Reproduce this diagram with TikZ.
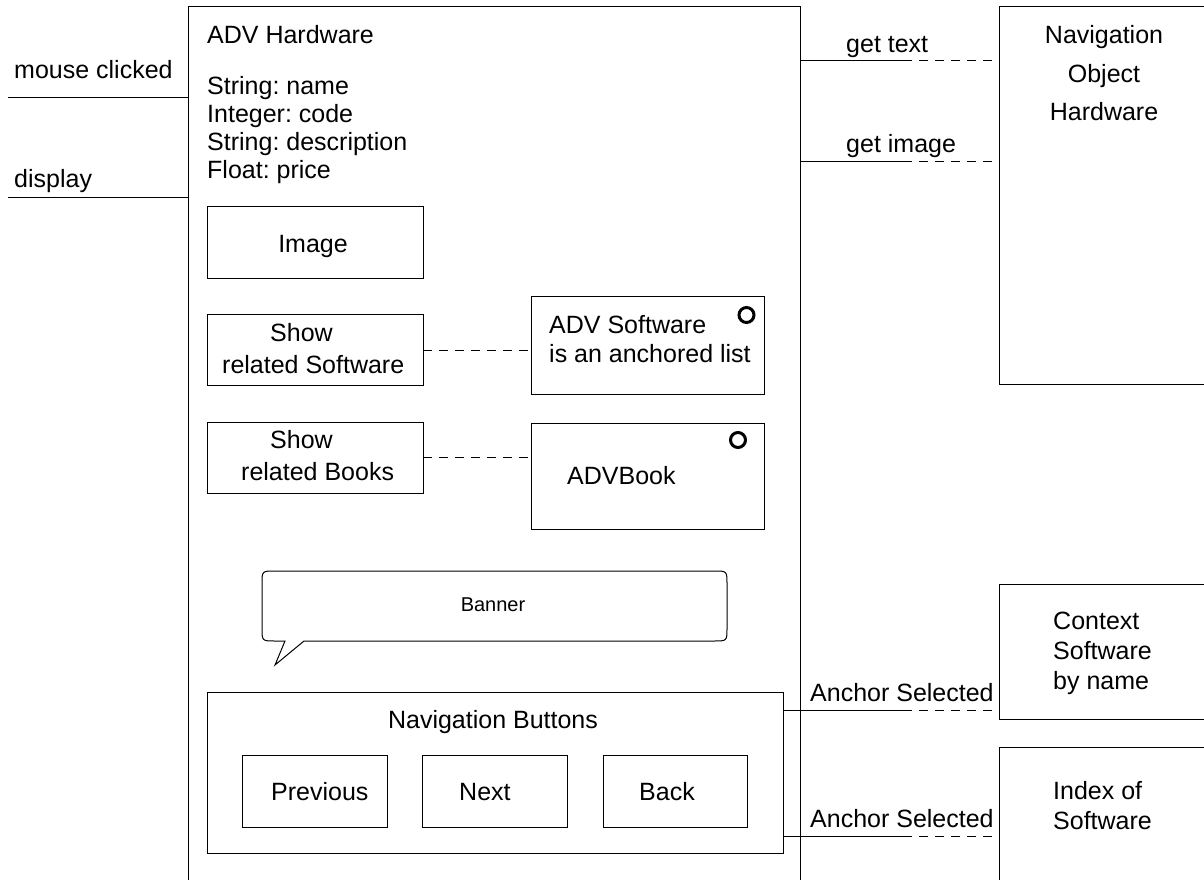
\documentclass[tikz,border=0pt]{standalone}
\usepackage{fontspec}
\setmainfont{Liberation Sans}
\frenchspacing
\begin{document}
\begin{tikzpicture}[x=1pt,y=-1pt,
  ln/.style={line width=1pt},
  dsh/.style={line width=1pt, dash pattern=on 9pt off 7pt},
  box/.style={draw, line width=1pt, inner sep=0pt, anchor=north west},
  frame/.style={draw=none, inner sep=0pt, anchor=north west},
  txt/.style={inner sep=0pt, anchor=base west, font=\fontsize{25}{30}\selectfont},
  ctxt/.style={inner sep=0pt, anchor=base, font=\fontsize{25}{30}\selectfont},
  anchorring/.style={circle, draw, line width=3pt, minimum size=15pt, inner sep=0pt}]
\useasboundingbox (0,0) rectangle (1204,880);

% ADV Hardware page (open at the bottom)
\node[frame, minimum width=612pt, minimum height=873pt] (main) at (188,7) {};
\draw[ln] (main.south west) -- (main.north west) -- (main.north east) -- (main.south east);
\node[txt] (title) at (207,44) {ADV Hardware};
\node[txt] (a1) at (207,95) {String: name};
\node[txt] (a2) at (207,123) {Integer: code};
\node[txt] (a3) at (207,150) {String: description};
\node[txt] (a4) at (207,178) {Float: price};

% incoming events
\coordinate (mc) at (8,98);
\coordinate (dp) at (8,197);
\draw[ln] (mc) -- (main.west |- mc);
\draw[ln] (dp) -- (main.west |- dp);
\node[txt] (lmc) at (14,79) {mouse clicked};
\node[txt] (ldp) at (14,187) {display};

% image
\node[box, minimum width=216pt, minimum height=72pt] (img) at (207,206) {};
\node[ctxt] (limg) at (313,252) {Image};

% related software
\node[box, minimum width=216pt, minimum height=71pt] (srs) at (207,314) {};
\node[txt] (lsrs1) at (270,341) {Show};
\node[txt] (lsrs2) at (222,373) {related Software};
\node[box, minimum width=233pt, minimum height=98pt] (advs) at (531,296) {};
\node[txt] (ladvs1) at (549,333) {ADV Software};
\node[txt] (ladvs2) at (549,362) {is an anchored list};
\node[anchorring] (r1) at (746.5,315) {};
\coordinate (cs) at (423,350);
\draw[dsh] (cs) -- (advs.west |- cs);

% related books
\node[box, minimum width=216pt, minimum height=71pt] (srb) at (207,422) {};
\node[txt] (lsrb1) at (270,448) {Show};
\node[txt] (lsrb2) at (241,480) {related Books};
\node[box, minimum width=233pt, minimum height=106pt] (advb) at (531,423) {};
\node[txt] (ladvb) at (567,484) {ADVBook};
\node[anchorring] (r2) at (738,440) {};
\coordinate (cb) at (423,457);
\draw[dsh] (cb) -- (advb.west |- cb);

% banner callout
\node[inner sep=0pt, font=\fontsize{20}{24}\selectfont] (banner) at (493,605) {Banner};
\draw[ln] (275,665) -- (304,641) -- (714,641) .. controls (727,641) .. (727,628)
  -- (727,584) .. controls (727,571) .. (714,571) -- (275,571)
  .. controls (262,571) .. (262,584) -- (262,628) .. controls (262,641) .. (275,641)
  -- (285,641) -- cycle;

% navigation buttons
\node[box, minimum width=576pt, minimum height=161pt] (navb) at (207,692) {};
\node[ctxt] (lnavb) at (493,728) {Navigation Buttons};
\node[box, minimum width=145pt, minimum height=72pt] (prev) at (242,755) {};
\node[box, minimum width=145pt, minimum height=72pt] (next) at (422,755) {};
\node[box, minimum width=144pt, minimum height=72pt] (back) at (603,755) {};
\node[txt] (lprev) at (271,800) {Previous};
\node[txt] (lnext) at (459,800) {Next};
\node[txt] (lback) at (639,800) {Back};

% right-hand targets (open at the right)
\node[frame, minimum width=206pt, minimum height=377pt] (nobj) at (999,7) {};
\draw[ln] (nobj.north east) -- (nobj.north west) -- (nobj.south west) -- (nobj.south east);
\node[ctxt] (lnobj1) at (1104,44) {Navigation};
\node[ctxt] (lnobj2) at (1104,83) {Object};
\node[ctxt] (lnobj3) at (1104,121) {Hardware};

\node[frame, minimum width=206pt, minimum height=135pt] (ctx) at (999,584) {};
\draw[ln] (ctx.north east) -- (ctx.north west) -- (ctx.south west) -- (ctx.south east);
\node[txt] (lctx1) at (1053,629) {Context};
\node[txt] (lctx2) at (1053,659) {Software};
\node[txt] (lctx3) at (1053,689) {by name};

\node[frame, minimum width=206pt, minimum height=134pt] (idx) at (999,747) {};
\draw[ln] (idx.north east) -- (idx.north west) -- (idx.south west) -- (idx.south east);
\node[txt] (lidx1) at (1053,799) {Index of};
\node[txt] (lidx2) at (1053,829) {Software};

% links to the navigation object
\coordinate (gt) at (903,61);
\coordinate (gi) at (903,161);
\draw[ln] (main.east |- gt) -- (gt);
\draw[dsh] (gt) -- (nobj.west |- gt);
\draw[ln] (main.east |- gi) -- (gi);
\draw[dsh] (gi) -- (nobj.west |- gi);
\node[txt] (lgt) at (846,53) {get text};
\node[txt] (lgi) at (846,152) {get image};

% anchor links from the buttons
\coordinate (as1) at (903,710);
\coordinate (as2) at (903,836);
\draw[ln] (navb.east |- as1) -- (as1);
\draw[dsh] (as1) -- (ctx.west |- as1);
\draw[ln] (navb.east |- as2) -- (as2);
\draw[dsh] (as2) -- (idx.west |- as2);
\node[txt] (las1) at (810,701) {Anchor Selected};
\node[txt] (las2) at (810,827) {Anchor Selected};
\end{tikzpicture}
\end{document}
